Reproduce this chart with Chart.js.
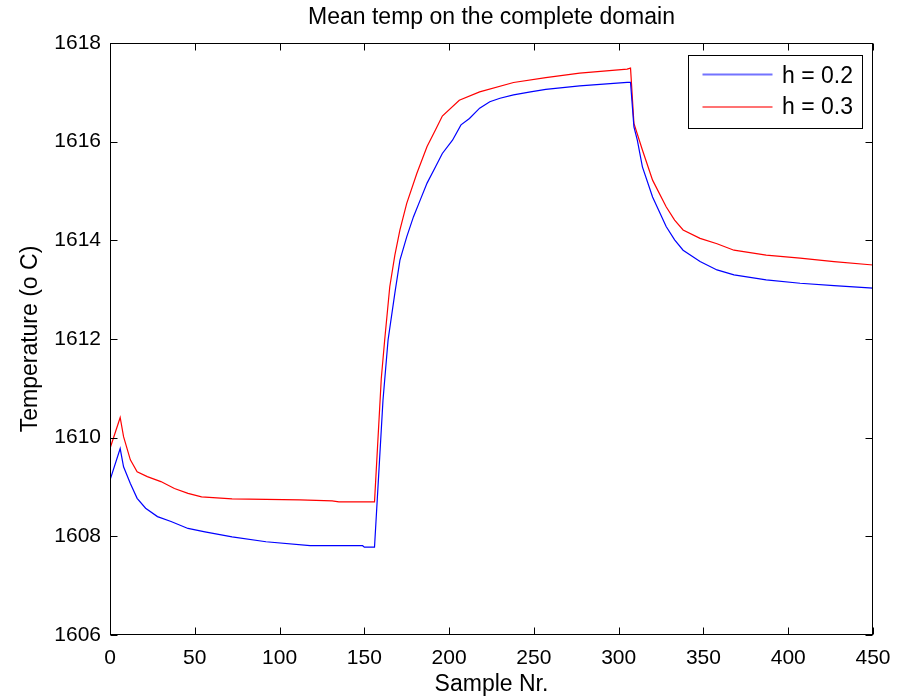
<!DOCTYPE html>
<html><head><meta charset="utf-8">
<script src="https://cdn.jsdelivr.net/npm/chart.js@4.4.0/dist/chart.umd.min.js"></script>
<style>html,body{margin:0;padding:0;background:#fff;overflow:hidden}</style>
</head><body>
<canvas id="c" width="909" height="698"></canvas>
<script>
const titleText = 'Mean temp on the complete domain';
const xLabel = 'Sample Nr.';
const yLabel = 'Temperature (o C)';
const seriesNames = ['h = 0.2', 'h = 0.3'];
const xTicks = [0, 50, 100, 150, 200, 250, 300, 350, 400, 450];
const yTicks = [1606, 1608, 1610, 1612, 1614, 1616, 1618];

const blueX = [0, 6, 8, 12, 16, 21, 28, 36, 46, 56, 72, 92, 118, 149, 150, 156, 161, 164, 168, 171, 175, 179, 183, 187, 192, 196, 202, 207, 212, 218, 224, 230, 238, 248, 257, 277, 305, 307, 309, 311, 314, 320, 328, 333, 338, 348, 358, 368, 387, 407, 427, 450];
const blueY = [1609.14, 1609.78, 1609.41, 1609.07, 1608.77, 1608.57, 1608.40, 1608.30, 1608.16, 1608.09, 1607.99, 1607.89, 1607.81, 1607.81, 1607.78, 1607.78, 1610.76, 1611.98, 1612.93, 1613.60, 1614.07, 1614.48, 1614.82, 1615.16, 1615.49, 1615.76, 1616.03, 1616.34, 1616.47, 1616.68, 1616.81, 1616.88, 1616.95, 1617.01, 1617.06, 1617.13, 1617.20, 1617.20, 1616.30, 1616.03, 1615.49, 1614.88, 1614.28, 1614.01, 1613.80, 1613.57, 1613.40, 1613.30, 1613.20, 1613.13, 1613.08, 1613.03];

const redX = [0, 6, 8, 12, 16, 22, 30, 38, 46, 54, 72, 92, 112, 131, 135, 156, 160, 162, 165, 168, 171, 175, 181, 187, 192, 196, 206, 218, 238, 257, 277, 305, 307, 309, 314, 320, 328, 333, 338, 348, 358, 368, 387, 407, 427, 450];
const redY = [1609.78, 1610.41, 1610.02, 1609.55, 1609.31, 1609.21, 1609.11, 1608.97, 1608.87, 1608.80, 1608.76, 1608.75, 1608.74, 1608.72, 1608.70, 1608.70, 1611.20, 1611.98, 1613.06, 1613.70, 1614.21, 1614.75, 1615.36, 1615.90, 1616.24, 1616.52, 1616.84, 1617.01, 1617.20, 1617.30, 1617.39, 1617.47, 1617.49, 1616.37, 1615.83, 1615.22, 1614.68, 1614.41, 1614.21, 1614.04, 1613.93, 1613.80, 1613.70, 1613.64, 1613.57, 1613.50];

const colors = ['#0000ff', '#ff0000'];
const legendLineColors = ['#7373ff', '#ff7373'];
const FONT = '"Liberation Sans", Arial, Helvetica, sans-serif';
Chart.defaults.font.family = FONT;
Chart.defaults.font.size = 21;
Chart.defaults.color = '#000';

const toPts = (xs, ys) => xs.map((x, i) => ({x: x, y: ys[i]}));

const framePlugin = {
  id: 'frame',
  afterDatasetsDraw(chart) {
    const {ctx, chartArea: a, scales: {x, y}} = chart;
    const L = Math.round(a.left) + 0.5, R = Math.round(a.right) - 0.5;
    const T = Math.round(a.top) + 0.5, B = Math.round(a.bottom) - 0.5;
    const tl = 7;
    ctx.save();
    // title centred over plot area
    ctx.fillStyle = '#000';
    ctx.font = '23px ' + FONT;
    ctx.textAlign = 'center';
    ctx.textBaseline = 'middle';
    ctx.fillText(titleText, (a.left + a.right) / 2, 18);

    ctx.strokeStyle = '#000';
    ctx.lineWidth = 1;
    ctx.beginPath();
    xTicks.forEach(v => {
      const p = Math.round(x.getPixelForValue(v)) + 0.5;
      ctx.moveTo(p, B); ctx.lineTo(p, B - tl);
      ctx.moveTo(p, T); ctx.lineTo(p, T + tl);
    });
    yTicks.forEach(v => {
      const p = Math.round(y.getPixelForValue(v)) + 0.5;
      ctx.moveTo(L, p); ctx.lineTo(L + tl, p);
      ctx.moveTo(R, p); ctx.lineTo(R - tl, p);
    });
    ctx.stroke();
    ctx.strokeRect(L, T, R - L, B - T);

    // legend box (top-right inside plot)
    const bw = 174, bh = 73;
    const bx = Math.round(a.right) - 11 - bw + 0.5;
    const by = Math.round(a.top) + 12 + 0.5;
    ctx.fillStyle = '#fff';
    ctx.fillRect(bx, by, bw, bh);
    ctx.strokeStyle = '#000';
    ctx.strokeRect(bx, by, bw, bh);
    ctx.font = '23px ' + FONT;
    ctx.textBaseline = 'middle';
    ctx.textAlign = 'left';
    chart.data.datasets.forEach((ds, i) => {
      const ly = by + 19 + i * 32.5;
      ctx.strokeStyle = legendLineColors[i];
      ctx.lineWidth = 2;
      ctx.beginPath();
      ctx.moveTo(bx + 14, ly); ctx.lineTo(bx + 84, ly);
      ctx.stroke();
      ctx.fillStyle = '#000';
      ctx.fillText(ds.label, bx + 93.5, ly + (i === 0 ? 2.5 : 0.5));
    });
    ctx.restore();
  }
};

new Chart(document.getElementById('c'), {
  type: 'line',
  data: {
    datasets: [
      {label: seriesNames[0], data: toPts(blueX, blueY), borderColor: colors[0], borderWidth: 1.2, pointRadius: 0, tension: 0, fill: false},
      {label: seriesNames[1], data: toPts(redX, redY), borderColor: colors[1], borderWidth: 1.2, pointRadius: 0, tension: 0, fill: false}
    ]
  },
  options: {
    responsive: false,
    animation: false,
    layout: {padding: {left: 0, right: 36, top: 43, bottom: 0}},
    plugins: {
      legend: {display: false},
      tooltip: {enabled: false},
      title: {display: false}
    },
    scales: {
      x: {
        type: 'linear', min: 0, max: 450,
        afterBuildTicks: s => { s.ticks = xTicks.map(v => ({value: v})); },
        afterFit: s => { s.height = 63; },
        grid: {display: false, drawTicks: false},
        border: {display: false},
        ticks: {padding: 11, color: '#000', maxRotation: 0, autoSkip: false},
        title: {display: true, text: xLabel, color: '#000', font: {size: 23}, padding: {top: 0, bottom: 0}}
      },
      y: {
        type: 'linear', min: 1606, max: 1618,
        afterBuildTicks: s => { s.ticks = yTicks.map(v => ({value: v})); },
        afterFit: s => { s.width = 110; },
        grid: {display: false, drawTicks: false},
        border: {display: false},
        ticks: {padding: 9, color: '#000', callback: v => String(v)},
        title: {display: true, text: yLabel, color: '#000', font: {size: 23}, padding: {top: 17, bottom: 0}}
      }
    }
  },
  plugins: [framePlugin]
});
</script>
</body></html>
